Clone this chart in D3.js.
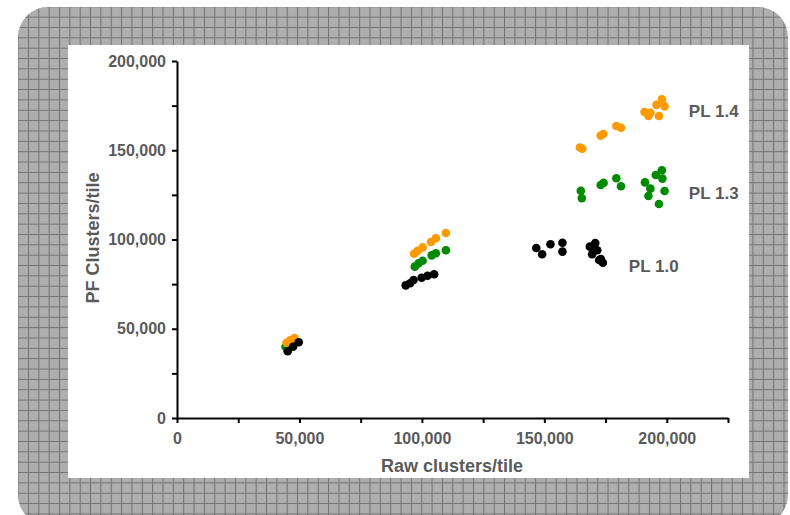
<!DOCTYPE html>
<html>
<head>
<meta charset="utf-8">
<script src="https://cdn.jsdelivr.net/npm/d3@7"></script>
<style>
  body { margin: 0; background: #fff; }
  svg { display: block; font-family: "Liberation Sans", Arial, sans-serif; }
</style>
</head>
<body>
<div id="chart"></div>
<script>
// series (thousands of clusters per tile)
const seriesNames = ["PL 1.0", "PL 1.3", "PL 1.4"];

const pl10Raw = [45.2, 47.4, 49.7, 93.4, 95.2, 96.6, 99.9, 102.3, 105.0,
  146.7, 149.1, 152.5, 157.4, 157.4, 168.6, 170.8, 169.5, 171.6, 172.4, 173.9, 173.1];
const pl10PF = [37.4, 39.9, 42.4, 74.3, 75.5, 77.3, 78.6, 79.7, 80.5,
  95.2, 91.7, 97.3, 98.2, 93.2, 96.0, 98.0, 91.7, 94.0, 88.5, 87.0, 89.1];

const pl13Raw = [44.3, 46.0, 47.5, 97.1, 98.6, 100.3, 104.0, 105.7, 109.8,
  164.9, 165.3, 173.0, 174.2, 179.4, 181.3, 191.1, 193.3, 192.5, 196.8, 195.5, 198.0, 198.2, 199.1];
const pl13PF = [39.9, 40.9, 42.6, 84.8, 86.6, 88.1, 91.1, 92.3, 94.0,
  127.3, 123.2, 130.5, 131.7, 134.3, 129.8, 132.0, 128.5, 124.4, 119.9, 136.1, 138.8, 134.1, 127.2];

const pl14Raw = [44.7, 46.3, 48.0, 96.8, 98.2, 100.3, 103.7, 105.7, 109.8,
  164.5, 165.5, 173.0, 174.1, 179.4, 181.3, 190.9, 192.5, 193.3, 196.8, 195.8, 198.0, 199.1];
const pl14PF = [42.2, 43.7, 44.8, 92.0, 93.6, 95.6, 98.6, 100.7, 103.6,
  151.5, 150.8, 158.2, 159.1, 163.6, 162.6, 171.4, 169.2, 171.0, 169.2, 175.4, 178.5, 174.6];

// where each series name sits, in data units
const labelRaw = [184.5, 209, 209];
const labelPF = [85, 126, 172];

const xTicks = [0, 25000, 50000, 75000, 100000, 125000, 150000, 175000, 200000, 225000];
const yTicks = [0, 25000, 50000, 75000, 100000, 125000, 150000, 175000, 200000];

const colors = ["#000000", "#008a00", "#ff9900"];

//
//
const width = 790;
const height = 515;
const plot = {left: 177, right: 728, top: 61, bottom: 418};
const textColor = "#5a5a5a";
const fmt = d3.format(",");

const svg = d3.select("#chart")
  .append("svg")
  .attr("width", width)
  .attr("height", height)
;

// grey graph-paper frame
const defs = svg.append("defs");
const dots = defs.append("pattern")
  .attr("id", "stipple")
  .attr("patternUnits", "userSpaceOnUse")
  .attr("width", 2)
  .attr("height", 2);
dots.append("rect").attr("width", 2).attr("height", 2).attr("fill", "#a6a6a6");
dots.append("rect").attr("width", 1).attr("height", 1).attr("fill", "#b8b8b8");
dots.append("rect").attr("x", 1).attr("y", 1).attr("width", 1).attr("height", 1).attr("fill", "#b4b4b4");

const cell = 10.35;
const grid = defs.append("pattern")
  .attr("id", "grid")
  .attr("patternUnits", "userSpaceOnUse")
  .attr("x", 17.6)
  .attr("y", 6.3)
  .attr("width", cell)
  .attr("height", cell);
grid.append("rect")
  .attr("width", cell)
  .attr("height", cell)
  .attr("fill", "url(#stipple)");
grid.append("path")
  .attr("d", `M0,0.5H${cell}M0.5,0V${cell}`)
  .attr("stroke", "#727272")
  .attr("stroke-width", 1)
  .attr("fill", "none");

svg.append("rect")
  .attr("x", 18)
  .attr("y", 7)
  .attr("width", 770)
  .attr("height", 518)
  .attr("rx", 30)
  .attr("fill", "url(#grid)");

svg.append("rect")
  .attr("x", 68)
  .attr("y", 45)
  .attr("width", 681)
  .attr("height", 433)
  .attr("fill", "#ffffff");

// scales, data in thousands for the marks
const x = d3.scaleLinear().domain([0, 225000]).range([plot.left, plot.right]);
const y = d3.scaleLinear().domain([0, 200000]).range([plot.bottom, plot.top]);

const xAxis = svg.append("g")
  .attr("transform", `translate(0,${plot.bottom})`)
  .call(d3.axisBottom(x)
    .tickValues(xTicks)
    .tickFormat(d => d % 50000 === 0 ? fmt(d) : "")
    .tickSize(5)
    .tickSizeOuter(0)
    .tickPadding(10));

const yAxis = svg.append("g")
  .attr("transform", `translate(${plot.left},0)`)
  .call(d3.axisLeft(y)
    .tickValues(yTicks)
    .tickFormat(d => d % 50000 === 0 ? fmt(d) : "")
    .tickSize(5)
    .tickSizeOuter(0)
    .tickPadding(6));

[xAxis, yAxis].forEach(g => {
  g.select(".domain").attr("stroke", "#000").attr("stroke-width", 2);
  g.selectAll(".tick line").attr("stroke", "#000").attr("stroke-width", 2);
  g.selectAll(".tick text")
    .attr("fill", textColor)
    .style("font-size", "16px")
    .style("font-weight", "bold");
});

svg.append("text")
  .attr("x", 452)
  .attr("y", 472)
  .attr("text-anchor", "middle")
  .attr("fill", textColor)
  .style("font-size", "18px")
  .style("font-weight", "bold")
  .text("Raw clusters/tile");

svg.append("text")
  .attr("transform", "translate(99,238) rotate(-90)")
  .attr("text-anchor", "middle")
  .attr("fill", textColor)
  .style("font-size", "18px")
  .style("font-weight", "bold")
  .text("PF Clusters/tile");

// points
const series = [
  {raw: pl10Raw, pf: pl10PF},
  {raw: pl13Raw, pf: pl13PF},
  {raw: pl14Raw, pf: pl14PF},
];

[1, 2, 0].forEach(i => {
  svg.append("g")
    .selectAll("circle")
    .data(series[i].raw.map((r, j) => ({r, p: series[i].pf[j]})))
    .join("circle")
    .attr("cx", d => x(d.r * 1000))
    .attr("cy", d => y(d.p * 1000))
    .attr("r", 4.3)
    .attr("fill", colors[i]);
});

svg.append("g")
  .selectAll("text")
  .data(seriesNames)
  .join("text")
  .attr("x", (d, i) => x(labelRaw[i] * 1000))
  .attr("y", (d, i) => y(labelPF[i] * 1000))
  .attr("dy", "0.35em")
  .attr("fill", textColor)
  .style("font-size", "17px")
  .style("font-weight", "bold")
  .text(d => d);
</script>
</body>
</html>
